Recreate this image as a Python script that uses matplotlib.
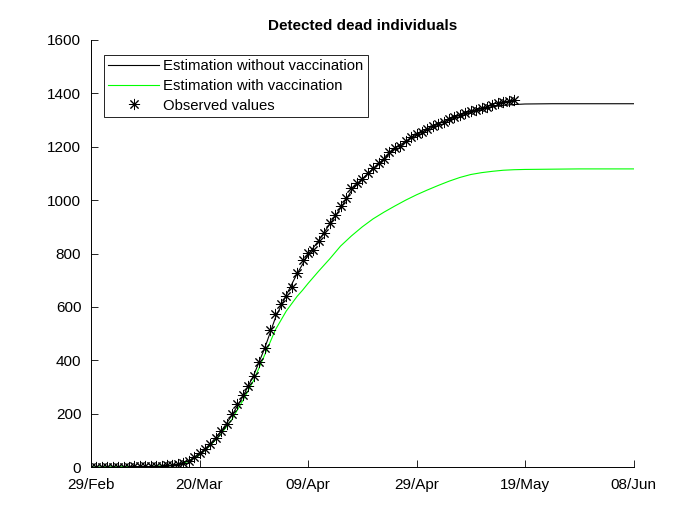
import numpy as np
import matplotlib
matplotlib.use('Agg')
import matplotlib.pyplot as plt

# days counted from 29/Feb
tick_days = [0, 20, 40, 60, 80, 100]
tick_labels = ['29/Feb', '20/Mar', '09/Apr', '29/Apr', '19/May', '08/Jun']

# observed detected dead, one value per day (day 0 .. 78)
observed = [0, 0, 0, 1, 1, 1, 2, 2, 3, 3, 4,
            4, 5, 6, 7, 9, 12, 17, 24, 37, 52,
            68, 88, 110, 135, 162, 198, 238, 270, 305, 342,
            394, 445, 513, 572, 613, 640, 673, 726, 776, 801,
            815, 846, 878, 913, 944, 978, 1007, 1045, 1063, 1081,
            1100, 1119, 1138, 1155, 1181, 1196, 1204, 1220, 1235, 1246,
            1256, 1265, 1277, 1286, 1294, 1302, 1310, 1319, 1326, 1333,
            1338, 1344, 1350, 1356, 1364, 1368, 1373, 1375]

# model estimations
model_days = [0, 10, 14, 16, 18, 20, 22, 24, 26, 28, 30, 32, 34, 36, 38, 39,
              40, 42, 44, 46, 48, 50, 52, 54, 56, 58, 60, 62, 64, 66, 68,
              70, 72, 74, 76, 78, 80, 85, 90, 100]
no_vacc = [0, 2, 5, 10, 24, 50, 88, 135, 195, 265, 345, 445, 560, 645, 725, 760,
           795, 850, 910, 970, 1035, 1080, 1118, 1155, 1195, 1220, 1245, 1265, 1285, 1302, 1318,
           1331, 1342, 1350, 1355, 1358, 1360, 1361, 1361, 1361]
with_vacc = [0, 2, 5, 9, 22, 46, 82, 125, 180, 250, 326, 420, 515, 585, 640, 663,
             688, 735, 780, 828, 866, 900, 930, 955, 978, 1000, 1020, 1038, 1055, 1071, 1085,
             1096, 1103, 1108, 1112, 1114, 1115, 1116, 1117, 1117]

plt.rcParams['font.family'] = ['Liberation Sans', 'DejaVu Sans']

fig = plt.figure(figsize=(7, 5.25), dpi=100)
ax = fig.add_axes([0.13, 0.11, 0.775, 0.814])

ax.plot(model_days, no_vacc, color='black', lw=0.8, label='Estimation without vaccination')
ax.plot(model_days, with_vacc, color=(0, 1, 0), lw=0.8, label='Estimation with vaccination')
ax.plot(np.arange(len(observed)), observed, ls='none', marker=(8, 2, 0), ms=8,
        mec='black', mew=0.7, color='black', label='Observed values')

ax.set_xlim(0, 100)
ax.set_ylim(0, 1600)
ax.set_xticks(tick_days)
ax.set_xticklabels(tick_labels)
ax.set_yticks(np.arange(0, 1601, 200))
ax.tick_params(direction='in', length=5, width=0.6, labelsize=11)
ax.tick_params(axis='x', pad=8)
ax.tick_params(axis='y', pad=7)
ax.spines['top'].set_visible(False)
ax.spines['right'].set_visible(False)
ax.spines['left'].set_linewidth(0.7)
ax.spines['bottom'].set_linewidth(0.7)

ax.set_title('Detected dead individuals', fontsize=11, fontweight='bold', pad=7)

leg = ax.legend(loc='upper left', bbox_to_anchor=(0.024, 0.965), fontsize=10.7,
                fancybox=False, edgecolor='black', framealpha=1,
                handlelength=3.4, borderpad=0.3, labelspacing=0.38, handletextpad=0.3,
                borderaxespad=0)
leg.get_frame().set_linewidth(0.6)

fig.savefig('out.png', dpi=100)
